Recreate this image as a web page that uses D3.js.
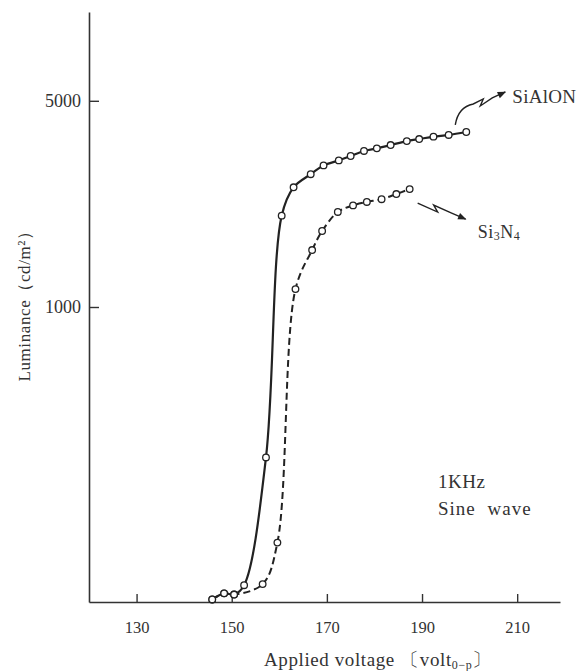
<!DOCTYPE html>
<html>
<head>
<meta charset="utf-8">
<script src="https://cdn.jsdelivr.net/npm/d3@7"></script>
<style>
  body { margin: 0; background: #fff; }
  svg { display: block; }
  text { font-family: "Liberation Serif", "DejaVu Serif", serif; fill: #333; }
</style>
</head>
<body>
<svg id="chart" width="580" height="671"></svg>
<script>
// values
var voltSiAlON = [145.9, 148.4, 150.5, 152.6, 157.2, 160.5, 163.0, 166.6, 169.3, 172.5, 175.0, 177.8, 180.5, 183.4, 186.8, 189.4, 192.4, 195.6, 199.3];
var lumSiAlON  = [102, 107, 106, 114, 309, 2040, 2545, 2820, 3020, 3140, 3250, 3380, 3450, 3540, 3650, 3710, 3780, 3830, 3920];
var voltSi3N4  = [145.9, 148.4, 150.5, 156.5, 159.6, 163.4, 166.9, 169.0, 172.3, 175.5, 178.4, 181.5, 184.6, 187.4];
var lumSi3N4   = [102, 107, 106, 115, 159, 1150, 1560, 1810, 2100, 2210, 2270, 2320, 2415, 2510];
var xTicks = [130, 150, 170, 190, 210];
var yTicks = [1000, 5000];

var svg = d3.select("#chart");

var x = d3.scaleLinear().domain([120, 219]).range([89, 560]);
var y = d3.scaleLog().domain([100, 10000]).range([602, 12]);

var zip = function(vs, ls){ return vs.map(function(v, i){ return {v: v, l: ls[i]}; }); };
var siAlON = zip(voltSiAlON, lumSiAlON),
    si3N4 = zip(voltSi3N4, lumSi3N4);

/* axes */
var xAxis = svg.append("g")
  .attr("transform", "translate(0," + y.range()[0] + ")")
  .call(d3.axisBottom(x).tickValues(xTicks).tickSizeInner(-8).tickSizeOuter(0).tickPadding(19).tickFormat(d3.format("d")));

var yAxis = svg.append("g")
  .attr("transform", "translate(" + x.range()[0] + ",0)")
  .call(d3.axisLeft(y).tickValues(yTicks).tickSizeInner(-10).tickSizeOuter(0).tickPadding(8).tickFormat(d3.format("d")));

[xAxis, yAxis].forEach(function(a){
  a.select(".domain").attr("stroke", "#333").attr("stroke-width", 1.6);
  a.selectAll(".tick line").attr("stroke", "#333").attr("stroke-width", 1.4);
  a.selectAll(".tick text").attr("font-family", "Liberation Serif, serif").attr("fill", "#333");
});
xAxis.selectAll(".tick text").attr("font-size", 16.5);
yAxis.selectAll(".tick text").attr("font-size", 18);

/* curves */
var line = d3.line()
  .x(function(d){ return x(d.v); })
  .y(function(d){ return y(d.l); })
  .curve(d3.curveCatmullRom.alpha(0.5));

svg.append("path")
  .datum(si3N4)
  .attr("d", line)
  .attr("fill", "none")
  .attr("stroke", "#222")
  .attr("stroke-width", 2)
  .attr("stroke-dasharray", "7,4");

svg.append("path")
  .datum(siAlON)
  .attr("d", line)
  .attr("fill", "none")
  .attr("stroke", "#222")
  .attr("stroke-width", 2.2);

[si3N4, siAlON].forEach(function(series){
  svg.append("g").selectAll("circle")
    .data(series)
    .enter().append("circle")
    .attr("cx", function(d){ return x(d.v); })
    .attr("cy", function(d){ return y(d.l); })
    .attr("r", 3.3)
    .attr("fill", "#fff")
    .attr("stroke", "#222")
    .attr("stroke-width", 1.3);
});

/* labels with zigzag arrows */
svg.append("defs").append("marker")
  .attr("id", "head")
  .attr("viewBox", "0 0 10 10")
  .attr("refX", 9).attr("refY", 5)
  .attr("markerWidth", 7).attr("markerHeight", 6)
  .attr("orient", "auto")
  .append("path").attr("d", "M0,1 L10,5 L0,9 Z").attr("fill", "#222");

var endA = siAlON[siAlON.length - 1],
    ax = x(endA.v) - 11, ay = y(endA.l) - 7;
svg.append("path")
  .attr("d", "M" + ax + "," + ay +
    " c2,-13 8,-19 18,-21 l10,-5 l-3,7 l12,-8 l13,-6")
  .attr("fill", "none").attr("stroke", "#222").attr("stroke-width", 1.4)
  .attr("marker-end", "url(#head)");
svg.append("text").attr("x", ax + 57).attr("y", ay - 22).attr("font-size", 19).attr("letter-spacing", 0.3).text("SiAlON");

var endB = si3N4[si3N4.length - 1],
    bx = x(endB.v) + 8, by = y(endB.l) + 14;
svg.append("path")
  .attr("d", "M" + bx + "," + by + " l20,9 l-4,-7 l18,8 l14,6")
  .attr("fill", "none").attr("stroke", "#222").attr("stroke-width", 1.4)
  .attr("marker-end", "url(#head)");
var t = svg.append("text").attr("x", bx + 60).attr("y", by + 35).attr("font-size", 18).attr("letter-spacing", 0.5);
t.append("tspan").text("Si");
t.append("tspan").attr("font-size", 12).attr("dy", 2).text("3");
t.append("tspan").attr("dy", -2).text("N");
t.append("tspan").attr("font-size", 12).attr("dy", 2).text("4");

svg.append("text").attr("x", 438).attr("y", 488).attr("font-size", 19).attr("letter-spacing", 0.5).text("1KHz");
svg.append("text").attr("x", 438).attr("y", 515).attr("font-size", 19).attr("letter-spacing", 1).attr("word-spacing", 6).text("Sine wave");

/* axis titles */
var xt = svg.append("text").attr("x", 378).attr("y", 666).attr("text-anchor", "middle").attr("font-size", 19).attr("letter-spacing", 0.6);
xt.append("tspan").text("Applied voltage 〔volt");
xt.append("tspan").attr("font-size", 12).attr("dy", 3).text("0\u2212p");
xt.append("tspan").attr("dy", -3).text("〕");

svg.append("text")
  .attr("transform", "translate(30,302) rotate(-90)")
  .attr("text-anchor", "middle")
  .attr("font-size", 17)
  .attr("letter-spacing", 0.6)
  .text("Luminance（cd/m²）");
</script>
</body>
</html>
